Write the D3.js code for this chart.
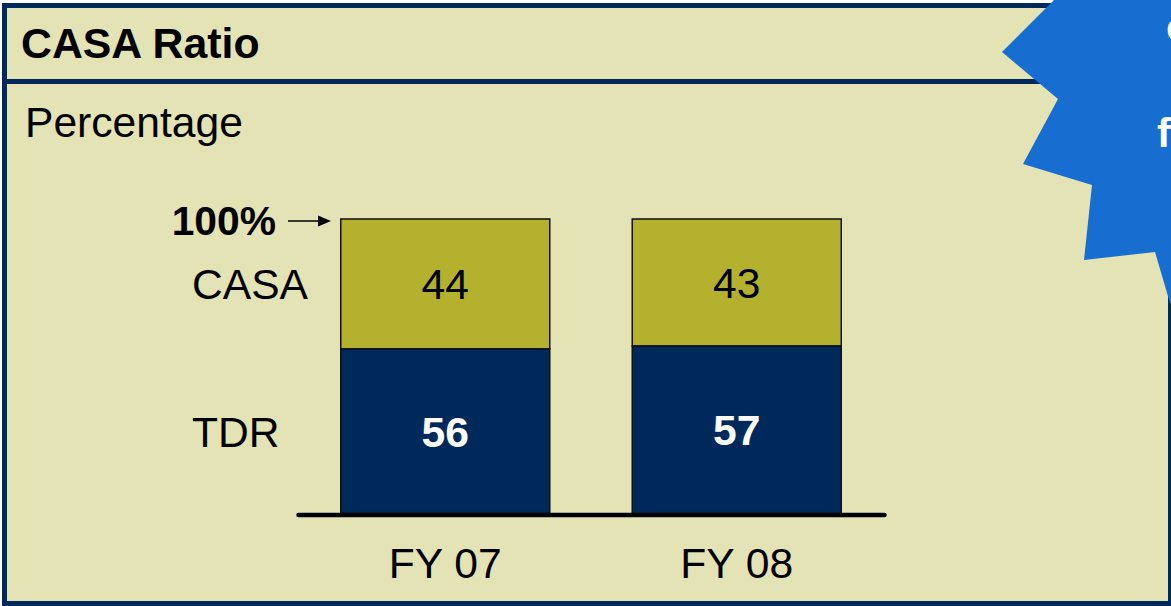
<!DOCTYPE html>
<html>
<head>
<meta charset="utf-8">
<script src="https://cdn.jsdelivr.net/npm/d3@7"></script>
<style>
  html, body { margin: 0; padding: 0; background: #ffffff; overflow: hidden; }
  svg { display: block; font-family: "Liberation Sans", Arial, sans-serif; }
</style>
</head>
<body>
<svg id="chart" width="1171" height="606"></svg>
<script>
// Deposit mix, percent of total deposits
const categories = ["FY 07", "FY 08"];
const tdrValues = [56, 57];
const casaValues = [44, 43];
const seriesNames = ["TDR", "CASA"];
const seriesColors = ["#00295b", "#b3b12d"];
const seriesTextColors = ["#ffffff", "#000000"];
const seriesTextWeights = ["bold", "normal"];

const W = 1171, H = 606;
const FS = 42.6;
const svg = d3.select("#chart");

const beige = "#e3e3b5";
const navy = "#00295b";

// Panel with navy frame
svg.append("rect").attr("x", 0).attr("y", 0).attr("width", W).attr("height", H).attr("fill", "#ffffff");
svg.append("rect").attr("x", 2).attr("y", 3).attr("width", W + 10).attr("height", H)
  .attr("fill", navy);
svg.append("rect").attr("x", 7).attr("y", 8).attr("width", 1161).attr("height", 601 - 8)
  .attr("fill", beige);
// header divider
svg.append("rect").attr("x", 7).attr("y", 79).attr("width", 1161).attr("height", 5).attr("fill", navy);

svg.append("text").attr("x", 21).attr("y", 58)
  .attr("font-size", 42.8).attr("font-weight", "bold").attr("fill", "#000")
  .text("CASA Ratio");
svg.append("text").attr("x", 25).attr("y", 137)
  .attr("font-size", FS).attr("fill", "#000")
  .text("Percentage");

// Scales
const x = d3.scaleBand().domain(categories).range([299.5, 882.5])
  .paddingInner(0.283).paddingOuter(0.1415);
const y = d3.scaleLinear().domain([0, 100]).range([514, 219]);

const rows = categories.map((c, i) => ({ cat: c, TDR: tdrValues[i], CASA: casaValues[i] }));
const stack = d3.stack().keys(seriesNames)(rows);

const g = svg.append("g");
stack.forEach((layer, li) => {
  g.selectAll(null).data(layer).enter().append("rect")
    .attr("x", d => x(d.data.cat))
    .attr("y", d => y(d[1]))
    .attr("width", x.bandwidth())
    .attr("height", d => y(d[0]) - y(d[1]))
    .attr("fill", seriesColors[li])
    .attr("stroke", "#111")
    .attr("stroke-width", 1.5);
  g.selectAll(null).data(layer).enter().append("text")
    .attr("x", d => x(d.data.cat) + x.bandwidth() / 2)
    .attr("y", d => (y(d[0]) + y(d[1])) / 2 + 15.5)
    .attr("text-anchor", "middle")
    .attr("font-size", FS)
    .attr("font-weight", seriesTextWeights[li])
    .attr("fill", seriesTextColors[li])
    .text(d => d[1] - d[0]);
  // series label beside the first bar
  const first = layer[0];
  svg.append("text")
    .attr("x", 192)
    .attr("y", (y(first[0]) + y(first[1])) / 2 + 15.5)
    .attr("font-size", FS)
    .attr("fill", "#000")
    .text(seriesNames[li]);
});

// Baseline
const [r0, r1] = x.range();
svg.append("line").attr("x1", r0 - 1).attr("x2", r1 + 2).attr("y1", y(0) + 1).attr("y2", y(0) + 1)
  .attr("stroke", "#000").attr("stroke-width", 4.5).attr("stroke-linecap", "round");

// Category labels
svg.selectAll(null).data(categories).enter().append("text")
  .attr("x", d => x(d) + x.bandwidth() / 2)
  .attr("y", 578)
  .attr("text-anchor", "middle")
  .attr("font-size", FS)
  .attr("fill", "#000")
  .text(d => d);

// 100% marker with arrow
svg.append("text").attr("x", 276).attr("y", 235).attr("text-anchor", "end")
  .attr("font-size", 40.8).attr("font-weight", "bold").attr("fill", "#000").text("100%");
svg.append("line").attr("x1", 288).attr("x2", 320).attr("y1", y(100) + 2).attr("y2", y(100) + 2)
  .attr("stroke", "#000").attr("stroke-width", 1.5);
svg.append("path")
  .attr("d", `M318,${y(100) - 3.5} L331,${y(100) + 2} L318,${y(100) + 7.5} Z`)
  .attr("fill", "#000");

// Callout burst on the right edge
const burst = [
  [1064, -10], [1002, 52], [1058, 99], [1023, 164], [1092, 185], [1084, 260],
  [1155, 252], [1170, 303], [1190, 320], [1300, 320], [1300, -10]
];
svg.append("path")
  .attr("d", d3.line()(burst) + "Z")
  .attr("fill", "#176dd0");
svg.append("text").attr("x", 1166).attr("y", 41)
  .attr("font-size", 41).attr("font-weight", "bold").attr("fill", "#fff").text("cost");
svg.append("text").attr("x", 1157).attr("y", 147)
  .attr("font-size", 41).attr("font-weight", "bold").attr("fill", "#fff").text("funds");
</script>
</body>
</html>
